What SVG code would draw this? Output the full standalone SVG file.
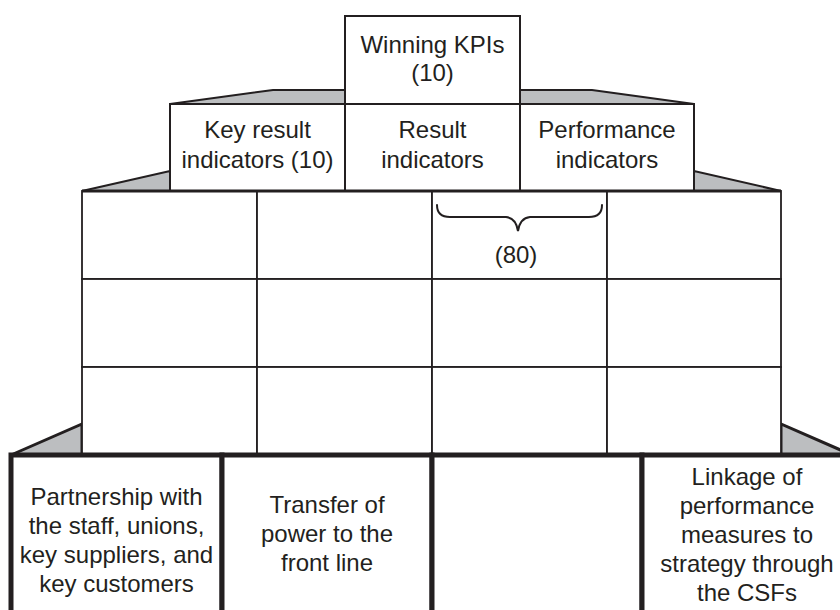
<svg xmlns="http://www.w3.org/2000/svg" width="840" height="610" viewBox="0 0 840 610">
  <style>
    .shade { fill: #bcbec0; stroke: #231f20; stroke-width: 2; stroke-linejoin: miter; }
    .shade-heavy { fill: #bcbec0; stroke: #231f20; stroke-width: 3; }
    .box { fill: #ffffff; stroke: #231f20; stroke-width: 2; }
    .cell { fill: #ffffff; stroke: #231f20; stroke-width: 1.8; }
    .base { fill: #ffffff; stroke: #231f20; stroke-width: 5; }
    .label { font-family: "Liberation Sans", Arial, sans-serif; font-size: 24px; fill: #231f20; text-anchor: middle; }
    .brace { fill: none; stroke: #231f20; stroke-width: 2; stroke-linecap: round; }
  </style>

  <rect width="840" height="610" fill="#ffffff"/>

  <!-- grey side bevels of each tier -->
  <g id="bevels">
    <polygon class="shade" points="170,104 273,90 345,90 345,104"/>
    <polygon class="shade" points="520,104 520,90 592,90 694,104"/>
    <polygon class="shade" points="82,191 170,171 170,191"/>
    <polygon class="shade" points="694,191 694,171 781,191"/>
    <polygon class="shade-heavy" points="11,455 82,424 82,455"/>
    <polygon class="shade-heavy" points="781,455 781,424 852,455"/>
  </g>

  <!-- top tier -->
  <g id="winning-kpis">
    <rect class="box" x="345" y="16" width="175" height="88"/>
    <text class="label" x="432.5" y="53">Winning KPIs</text>
    <text class="label" x="432.5" y="81">(10)</text>
  </g>

  <!-- second tier -->
  <g id="key-result-indicators">
    <rect class="box" x="170" y="104" width="175" height="87"/>
    <text class="label" x="257.5" y="138">Key result</text>
    <text class="label" x="257.5" y="168">indicators (10)</text>
  </g>
  <g id="result-indicators">
    <rect class="box" x="345" y="104" width="175" height="87"/>
    <text class="label" x="432.5" y="138">Result</text>
    <text class="label" x="432.5" y="168">indicators</text>
  </g>
  <g id="performance-indicators">
    <rect class="box" x="520" y="104" width="174" height="87"/>
    <text class="label" x="607" y="138">Performance</text>
    <text class="label" x="607" y="168">indicators</text>
  </g>

  <!-- third tier: 4 x 3 grid of measures -->
  <g id="measures-grid">
    <rect class="cell" x="82" y="191" width="175" height="88"/>
    <rect class="cell" x="257" y="191" width="175" height="88"/>
    <rect class="cell" x="432" y="191" width="175" height="88"/>
    <rect class="cell" x="607" y="191" width="174" height="88"/>
    <rect class="cell" x="82" y="279" width="175" height="88"/>
    <rect class="cell" x="257" y="279" width="175" height="88"/>
    <rect class="cell" x="432" y="279" width="175" height="88"/>
    <rect class="cell" x="607" y="279" width="174" height="88"/>
    <rect class="cell" x="82" y="367" width="175" height="88"/>
    <rect class="cell" x="257" y="367" width="175" height="88"/>
    <rect class="cell" x="432" y="367" width="175" height="88"/>
    <rect class="cell" x="607" y="367" width="174" height="88"/>
    <line x1="82" y1="191" x2="781" y2="191" stroke="#231f20" stroke-width="3"/>
  </g>

  <g id="brace-80">
    <path class="brace" d="M437,205 Q437,217 450,217 L506,217 Q516,218 518,231 Q520,218 530,217 L589,217 Q602,217 602,205"/>
    <text class="label" x="516" y="263">(80)</text>
  </g>

  <!-- foundation tier -->
  <g id="partnership">
    <rect class="base" x="11" y="455" width="211" height="170"/>
    <text class="label" x="116.5" y="505">Partnership with</text>
    <text class="label" x="116.5" y="534">the staff, unions,</text>
    <text class="label" x="116.5" y="563">key suppliers, and</text>
    <text class="label" x="116.5" y="592">key customers</text>
  </g>
  <g id="transfer-of-power">
    <rect class="base" x="222" y="455" width="210" height="170"/>
    <text class="label" x="327" y="513">Transfer of</text>
    <text class="label" x="327" y="542">power to the</text>
    <text class="label" x="327" y="571">front line</text>
  </g>
  <g id="foundation-blank">
    <rect class="base" x="432" y="455" width="210" height="170"/>
  </g>
  <g id="linkage">
    <rect class="base" x="642" y="455" width="210" height="170"/>
    <text class="label" x="747" y="485">Linkage of</text>
    <text class="label" x="747" y="514">performance</text>
    <text class="label" x="747" y="543">measures to</text>
    <text class="label" x="747" y="572">strategy through</text>
    <text class="label" x="747" y="601">the CSFs</text>
  </g>

  <g id="connectors"/>
</svg>
